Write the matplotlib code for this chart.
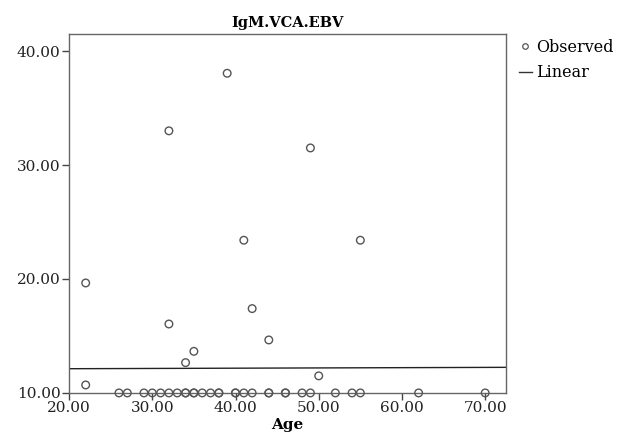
import matplotlib
matplotlib.use("Agg")
import matplotlib.pyplot as plt
from matplotlib.lines import Line2D
import numpy as np

# Observed data (Age, IgM.VCA.EBV)
age = [22, 22, 32, 39, 49, 41, 55, 42, 32, 44, 35, 34, 50,
       26, 27, 29, 30, 31, 32, 33, 34, 34, 35, 35, 36, 37, 38, 38,
       40, 40, 41, 42, 44, 44, 46, 46, 48, 49, 52, 54, 55, 62, 70]
igm = [10.7, 19.65, 33.0, 38.05, 31.5, 23.4, 23.4, 17.4, 16.05, 14.65, 13.65, 12.66, 11.5,
       10, 10, 10, 10, 10, 10, 10, 10, 10, 10, 10, 10, 10, 10, 10,
       10, 10, 10, 10, 10, 10, 10, 10, 10, 10, 10, 10, 10, 10, 10]

# Linear fit line (intercept, slope)
fit_intercept = 12.08
fit_slope = 0.0023

x_ticks = [20, 30, 40, 50, 60, 70]
y_ticks = [10, 20, 30, 40]

plt.rcParams['font.family'] = ['DejaVu Serif']

fig = plt.figure(figsize=(6.22, 4.44), dpi=100)
ax = fig.add_axes([0.111, 0.115, 0.7025, 0.8085])

xlim = (20, 72.5)
ylim = (10, 41.5)

ax.scatter(age, igm, s=30, facecolors='none', edgecolors='#555555', linewidths=1.0,
           zorder=3, clip_on=False)
xs = np.array(xlim)
ax.plot(xs, fit_intercept + fit_slope * xs, color='#222222', lw=1.0, zorder=2)

ax.set_xlim(*xlim)
ax.set_ylim(*ylim)
ax.set_xticks(x_ticks)
ax.set_yticks(y_ticks)
ax.set_xticklabels([f"{v:.2f}" for v in x_ticks])
ax.set_yticklabels([f"{v:.2f}" for v in y_ticks])
ax.tick_params(axis='both', direction='out', length=5, width=1, color='#444444',
               labelsize=11, labelcolor='#222222', pad=1)
for s in ax.spines.values():
    s.set_color('#666666')
    s.set_linewidth(1.0)

ax.set_title("IgM.VCA.EBV", fontsize=10.5, fontweight='bold', pad=5)
ax.set_xlabel("Age", fontsize=11, fontweight='bold', labelpad=2)

handles = [
    Line2D([], [], marker='o', linestyle='none', markerfacecolor='none',
           markeredgecolor='#555555', markersize=4, markeredgewidth=0.9),
    Line2D([], [], color='#333333', lw=1.0),
]
leg = fig.legend(handles, ["Observed", "Linear"], loc='upper left',
                 bbox_to_anchor=(0.834, 0.913), frameon=False, fontsize=11.5,
                 handlelength=0.8, handletextpad=0.3, labelspacing=0.55,
                 borderaxespad=0, borderpad=0)

fig.savefig("out.png", dpi=100)
